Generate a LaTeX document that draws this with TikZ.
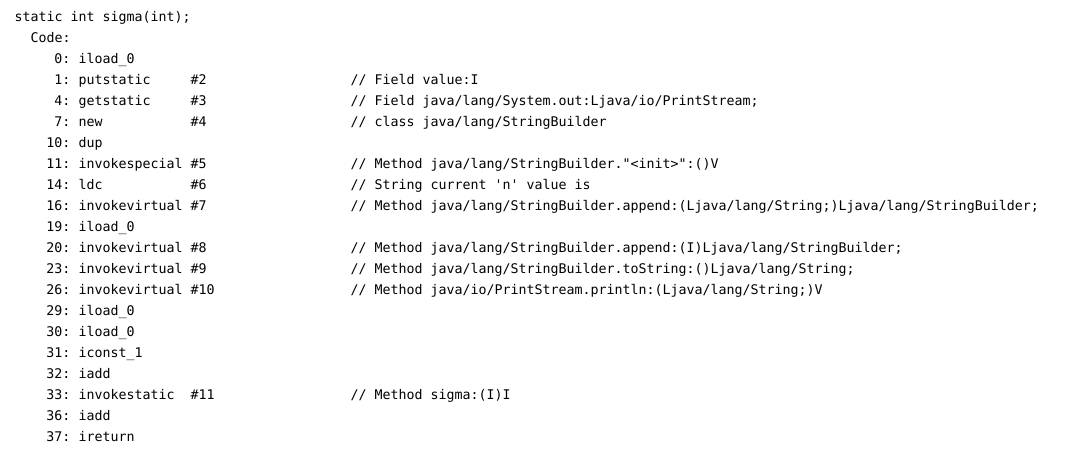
\documentclass[tikz,border=0pt]{standalone}
\usepackage{fontspec}
\setmonofont{DejaVu Sans Mono}
\usepackage{tikz}

\begin{document}
\begin{tikzpicture}[x=1pt,y=1pt,
  txt/.style={anchor=base west, inner sep=0pt, font=\ttfamily\fontsize{13.29}{16}\selectfont},
  pc/.style={txt, anchor=base east}]
\useasboundingbox (0,0) rectangle (1075,-449);

\node[txt] (head) at (14.5,-21.5) {static int sigma(int);};
\node[txt] (code) at (30.5,-42.5) {Code:};

\node[pc] (pc0) at (70.5,-63.5) {0:};
\node[txt] (op0) at (78.5,-63.5) {iload\_0};

\node[pc] (pc1) at (70.5,-84.5) {1:};
\node[txt] (op1) at (78.5,-84.5) {putstatic};
\node[txt] (arg1) at (190.5,-84.5) {\#2};
\node[txt] (cmt1) at (350.5,-84.5) {// Field value:I};

\node[pc] (pc4) at (70.5,-105.5) {4:};
\node[txt] (op4) at (78.5,-105.5) {getstatic};
\node[txt] (arg4) at (190.5,-105.5) {\#3};
\node[txt] (cmt4) at (350.5,-105.5) {// Field java/lang/System.out:Ljava/io/PrintStream;};

\node[pc] (pc7) at (70.5,-126.5) {7:};
\node[txt] (op7) at (78.5,-126.5) {new};
\node[txt] (arg7) at (190.5,-126.5) {\#4};
\node[txt] (cmt7) at (350.5,-126.5) {// class java/lang/StringBuilder};

\node[pc] (pc10) at (70.5,-147.5) {10:};
\node[txt] (op10) at (78.5,-147.5) {dup};

\node[pc] (pc11) at (70.5,-168.5) {11:};
\node[txt] (op11) at (78.5,-168.5) {invokespecial};
\node[txt] (arg11) at (190.5,-168.5) {\#5};
\node[txt] (cmt11) at (350.5,-168.5) {// Method java/lang/StringBuilder."<init>":()V};

\node[pc] (pc14) at (70.5,-189.5) {14:};
\node[txt] (op14) at (78.5,-189.5) {ldc};
\node[txt] (arg14) at (190.5,-189.5) {\#6};
\node[txt] (cmt14) at (350.5,-189.5) {// String current 'n' value is};

\node[pc] (pc16) at (70.5,-210.5) {16:};
\node[txt] (op16) at (78.5,-210.5) {invokevirtual};
\node[txt] (arg16) at (190.5,-210.5) {\#7};
\node[txt] (cmt16) at (350.5,-210.5) {// Method java/lang/StringBuilder.append:(Ljava/lang/String;)Ljava/lang/StringBuilder;};

\node[pc] (pc19) at (70.5,-231.5) {19:};
\node[txt] (op19) at (78.5,-231.5) {iload\_0};

\node[pc] (pc20) at (70.5,-252.5) {20:};
\node[txt] (op20) at (78.5,-252.5) {invokevirtual};
\node[txt] (arg20) at (190.5,-252.5) {\#8};
\node[txt] (cmt20) at (350.5,-252.5) {// Method java/lang/StringBuilder.append:(I)Ljava/lang/StringBuilder;};

\node[pc] (pc23) at (70.5,-273.5) {23:};
\node[txt] (op23) at (78.5,-273.5) {invokevirtual};
\node[txt] (arg23) at (190.5,-273.5) {\#9};
\node[txt] (cmt23) at (350.5,-273.5) {// Method java/lang/StringBuilder.toString:()Ljava/lang/String;};

\node[pc] (pc26) at (70.5,-294.5) {26:};
\node[txt] (op26) at (78.5,-294.5) {invokevirtual};
\node[txt] (arg26) at (190.5,-294.5) {\#10};
\node[txt] (cmt26) at (350.5,-294.5) {// Method java/io/PrintStream.println:(Ljava/lang/String;)V};

\node[pc] (pc29) at (70.5,-315.5) {29:};
\node[txt] (op29) at (78.5,-315.5) {iload\_0};

\node[pc] (pc30) at (70.5,-336.5) {30:};
\node[txt] (op30) at (78.5,-336.5) {iload\_0};

\node[pc] (pc31) at (70.5,-357.5) {31:};
\node[txt] (op31) at (78.5,-357.5) {iconst\_1};

\node[pc] (pc32) at (70.5,-378.5) {32:};
\node[txt] (op32) at (78.5,-378.5) {iadd};

\node[pc] (pc33) at (70.5,-399.5) {33:};
\node[txt] (op33) at (78.5,-399.5) {invokestatic};
\node[txt] (arg33) at (190.5,-399.5) {\#11};
\node[txt] (cmt33) at (350.5,-399.5) {// Method sigma:(I)I};

\node[pc] (pc36) at (70.5,-420.5) {36:};
\node[txt] (op36) at (78.5,-420.5) {iadd};

\node[pc] (pc37) at (70.5,-441.5) {37:};
\node[txt] (op37) at (78.5,-441.5) {ireturn};

\end{tikzpicture}
\end{document}
